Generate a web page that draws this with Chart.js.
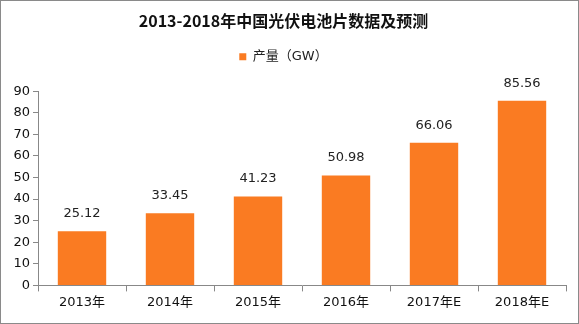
<!DOCTYPE html>
<html lang="zh">
<head>
  <meta charset="UTF-8" />
  <title>2013-2018年中国光伏电池片数据及预测</title>
  <script src="https://cdn.jsdelivr.net/npm/chart.js"></script>
  <style>
    html, body { margin: 0; padding: 0; background: #fff; }
    .frame {
      width: 579px;
      height: 324px;
      box-sizing: border-box;
      border: 1px solid #8a8a8a;
      background: #fff;
    }
    canvas { display: block; }
  </style>
</head>
<body>
  <div class="frame">
    <canvas id="pvChart" width="577" height="322"></canvas>
  </div>

  <script>
    const years = ['2013年', '2014年', '2015年', '2016年', '2017年E', '2018年E'];
    const output = [25.12, 33.45, 41.23, 50.98, 66.06, 85.56];
    const yTicks = [0, 10, 20, 30, 40, 50, 60, 70, 80, 90];

    const FONT = '"DejaVu Sans", "Noto Sans CJK SC", sans-serif';
    const ORANGE = '#FA7B22';

    // 柱顶数值标签
    const valueLabels = {
      id: 'valueLabels',
      afterDatasetsDraw(chart) {
        const ctx = chart.ctx;
        const meta = chart.getDatasetMeta(0);
        ctx.save();
        ctx.font = '13px ' + FONT;
        ctx.fillStyle = '#222';
        ctx.textAlign = 'center';
        ctx.textBaseline = 'bottom';
        meta.data.forEach((bar, i) => {
          ctx.fillText(output[i].toFixed(2), bar.x, bar.y - 11);
        });
        ctx.restore();
      }
    };

    // 图例与绘图区之间留出更大的空隙
    const legendGap = {
      id: 'legendGap',
      beforeInit(chart) {
        const fit = chart.legend.fit;
        chart.legend.fit = function () {
          fit.call(this);
          this.height += 18;
        };
      }
    };

    new Chart(document.getElementById('pvChart'), {
      type: 'bar',
      data: {
        labels: years,
        datasets: [{
          label: '产量（GW）',
          data: output,
          backgroundColor: ORANGE,
          borderWidth: 0,
          categoryPercentage: 1,
          barPercentage: 0.55
        }]
      },
      options: {
        responsive: false,
        animation: false,
        layout: { padding: { left: 0, right: 12, top: 6, bottom: 10 } },
        plugins: {
          title: {
            display: true,
            text: '2013-2018年中国光伏电池片数据及预测',
            color: '#111',
            font: { family: '"Noto Sans CJK SC", sans-serif', size: 16, weight: 'bold' },
            padding: { top: 4, bottom: 10 }
          },
          legend: {
            display: true,
            labels: {
              color: '#222',
              font: { family: FONT, size: 13 },
              boxWidth: 7,
              boxHeight: 7,
              padding: 10
            }
          },
          tooltip: { enabled: false }
        },
        scales: {
          x: {
            grid: {
              display: true,
              drawOnChartArea: false,
              tickLength: 6,
              color: '#888'
            },
            border: { color: '#888' },
            ticks: {
              color: '#111',
              font: { family: FONT, size: 13 },
              padding: 3,
              maxRotation: 0
            }
          },
          y: {
            min: 0,
            max: 90,
            afterBuildTicks(scale) {
              scale.ticks = yTicks.map(v => ({ value: v }));
            },
            afterFit(scale) { scale.width = 37; },
            grid: {
              display: true,
              drawOnChartArea: false,
              tickLength: 5,
              color: '#888'
            },
            border: { color: '#888' },
            ticks: {
              color: '#111',
              font: { family: FONT, size: 13 },
              padding: 3
            }
          }
        }
      },
      plugins: [valueLabels, legendGap]
    });
  </script>
</body>
</html>
